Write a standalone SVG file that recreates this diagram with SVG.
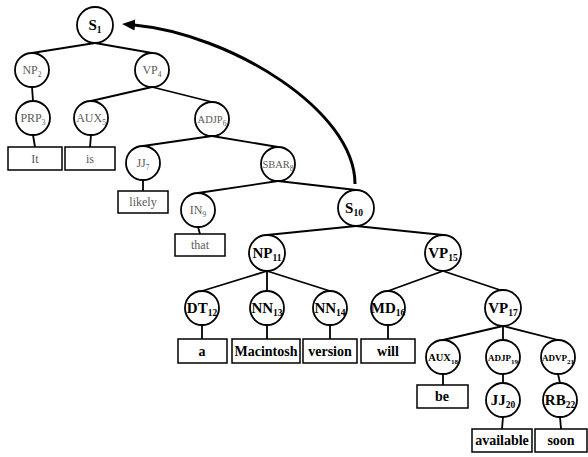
<svg xmlns="http://www.w3.org/2000/svg" width="588" height="457" viewBox="0 0 588 457">
  <defs>
    <style>
      .node { fill: #fff; stroke: #000; stroke-width: 1.8; }
      .box { fill: #fff; stroke: #000; stroke-width: 1.5; }
      .edge { stroke: #000; stroke-width: 1.8; fill: none; }
      .lbl { font-family: "Liberation Serif", "Times New Roman", serif; font-weight: bold; font-size: 15px; fill: #000; text-anchor: middle; }
      .lbl .sub { font-size: 9.5px; }
      .sm { font-size: 10.5px; }
      .sm .sub { font-size: 7px; }
      .dim { font-weight: normal; fill: #5a5a5a; font-size: 12px; }
      .dim .sub { font-size: 7.5px; }
      .word { font-family: "Liberation Serif", "Times New Roman", serif; font-weight: bold; font-size: 14px; fill: #000; text-anchor: middle; }
      .word.dim { font-weight: normal; fill: #5a5a5a; font-size: 12px; }
      .link { stroke: #000; stroke-width: 3; fill: none; }
    </style>
    <marker id="head" markerUnits="userSpaceOnUse" markerWidth="14" markerHeight="12" refX="1" refY="6" orient="auto">
      <path d="M0,0.5 L13,6 L0,11.5 z" fill="#000"/>
    </marker>
  </defs>

  <!-- tree edges: parent bottom to child top -->
  <g id="edges">
    <line class="edge" x1="95" y1="43" x2="32" y2="53"/>
    <line class="edge" x1="95" y1="43" x2="152" y2="53"/>
    <line class="edge" x1="32" y1="87" x2="33" y2="101"/>
    <line class="edge" x1="33" y1="135" x2="35" y2="147"/>
    <line class="edge" x1="152" y1="87" x2="91" y2="101"/>
    <line class="edge" x1="152" y1="87" x2="212" y2="102"/>
    <line class="edge" x1="91" y1="135" x2="90" y2="147"/>
    <line class="edge" x1="212" y1="136" x2="143" y2="146"/>
    <line class="edge" x1="212" y1="136" x2="278" y2="147"/>
    <line class="edge" x1="143" y1="180" x2="143" y2="191"/>
    <line class="edge" x1="278" y1="181" x2="198" y2="193"/>
    <line class="edge" x1="278" y1="181" x2="356" y2="190"/>
    <line class="edge" x1="198" y1="227" x2="200" y2="234"/>
    <line class="edge" x1="356" y1="226" x2="267" y2="235"/>
    <line class="edge" x1="356" y1="226" x2="443" y2="235"/>
    <line class="edge" x1="267" y1="271" x2="202" y2="291"/>
    <line class="edge" x1="267" y1="271" x2="267" y2="291"/>
    <line class="edge" x1="267" y1="271" x2="330" y2="291"/>
    <line class="edge" x1="443" y1="271" x2="388" y2="291"/>
    <line class="edge" x1="443" y1="271" x2="503" y2="291"/>
    <line class="edge" x1="202" y1="325" x2="202" y2="339"/>
    <line class="edge" x1="267" y1="325" x2="267" y2="339"/>
    <line class="edge" x1="330" y1="325" x2="330" y2="339"/>
    <line class="edge" x1="388" y1="325" x2="388" y2="339"/>
    <line class="edge" x1="503" y1="326" x2="443" y2="340"/>
    <line class="edge" x1="503" y1="326" x2="503" y2="340"/>
    <line class="edge" x1="503" y1="326" x2="558" y2="340"/>
    <line class="edge" x1="443" y1="374" x2="443" y2="385"/>
    <line class="edge" x1="503" y1="374" x2="503" y2="383"/>
    <line class="edge" x1="558" y1="374" x2="560" y2="383"/>
    <line class="edge" x1="503" y1="417" x2="502" y2="429"/>
    <line class="edge" x1="560" y1="417" x2="561" y2="429"/>
    <!-- long arrow from S10 back to S1 -->
    <path class="link" d="M355,184 C355,110 230,34 134,25" marker-end="url(#head)"/>
  </g>

  <!-- nodes -->
  <g id="S1"><circle class="node" cx="95" cy="25" r="18"/><text class="lbl" x="95" y="30">S<tspan class="sub" dy="3">1</tspan></text></g>
  <g id="NP2"><circle class="node" cx="32" cy="70" r="17"/><text class="lbl dim" x="32" y="74">NP<tspan class="sub" dy="3">2</tspan></text></g>
  <g id="VP4"><circle class="node" cx="152" cy="70" r="17"/><text class="lbl dim" x="152" y="74">VP<tspan class="sub" dy="3">4</tspan></text></g>
  <g id="PRP3"><circle class="node" cx="33" cy="118" r="17"/><text class="lbl dim" x="33" y="122">PRP<tspan class="sub" dy="3">3</tspan></text></g>
  <g id="AUX5"><circle class="node" cx="91" cy="118" r="17"/><text class="lbl dim" x="91" y="122">AUX<tspan class="sub" dy="3">5</tspan></text></g>
  <g id="ADJP6"><circle class="node" cx="212" cy="119" r="17"/><text class="lbl dim" x="212" y="123" style="font-size:10.5px">ADJP<tspan class="sub" dy="3">6</tspan></text></g>
  <g id="JJ7"><circle class="node" cx="143" cy="163" r="17"/><text class="lbl dim" x="143" y="167">JJ<tspan class="sub" dy="3">7</tspan></text></g>
  <g id="SBAR8"><circle class="node" cx="278" cy="164" r="17"/><text class="lbl dim" x="278" y="168" style="font-size:10.5px">SBAR<tspan class="sub" dy="3">8</tspan></text></g>
  <g id="IN9"><circle class="node" cx="198" cy="210" r="17"/><text class="lbl dim" x="198" y="214">IN<tspan class="sub" dy="3">9</tspan></text></g>
  <g id="S10"><circle class="node" cx="356" cy="208" r="18"/><text class="lbl" x="354" y="213">S<tspan class="sub" dy="3">10</tspan></text></g>
  <g id="NP11"><circle class="node" cx="267" cy="253" r="18"/><text class="lbl" x="267" y="258">NP<tspan class="sub" dy="3">11</tspan></text></g>
  <g id="VP15"><circle class="node" cx="443" cy="253" r="18"/><text class="lbl" x="443" y="258">VP<tspan class="sub" dy="3">15</tspan></text></g>
  <g id="DT12"><circle class="node" cx="202" cy="308" r="17"/><text class="lbl" x="202" y="313">DT<tspan class="sub" dy="3">12</tspan></text></g>
  <g id="NN13"><circle class="node" cx="267" cy="308" r="17"/><text class="lbl" x="267" y="313">NN<tspan class="sub" dy="3">13</tspan></text></g>
  <g id="NN14"><circle class="node" cx="330" cy="308" r="17"/><text class="lbl" x="330" y="313">NN<tspan class="sub" dy="3">14</tspan></text></g>
  <g id="MD16"><circle class="node" cx="388" cy="308" r="17"/><text class="lbl" x="388" y="313">MD<tspan class="sub" dy="3">16</tspan></text></g>
  <g id="VP17"><circle class="node" cx="503" cy="308" r="18"/><text class="lbl" x="503" y="313">VP<tspan class="sub" dy="3">17</tspan></text></g>
  <g id="AUX18"><circle class="node" cx="443" cy="357" r="17"/><text class="lbl sm" x="443" y="361">AUX<tspan class="sub" dy="3">18</tspan></text></g>
  <g id="ADJP19"><circle class="node" cx="503" cy="357" r="17"/><text class="lbl sm" x="503" y="361" style="font-size:9px">ADJP<tspan class="sub" dy="3">19</tspan></text></g>
  <g id="ADVP21"><circle class="node" cx="558" cy="357" r="17"/><text class="lbl sm" x="558" y="361" style="font-size:9px">ADVP<tspan class="sub" dy="3">21</tspan></text></g>
  <g id="JJ20"><circle class="node" cx="503" cy="400" r="17"/><text class="lbl" x="503" y="405">JJ<tspan class="sub" dy="3">20</tspan></text></g>
  <g id="RB22"><circle class="node" cx="560" cy="400" r="17"/><text class="lbl" x="560" y="405">RB<tspan class="sub" dy="3">22</tspan></text></g>

  <!-- word boxes -->
  <g id="w-it"><rect class="box" x="8" y="147" width="54" height="23"/><text class="word dim" x="35" y="163">It</text></g>
  <g id="w-is"><rect class="box" x="65" y="147" width="50" height="23"/><text class="word dim" x="90" y="163">is</text></g>
  <g id="w-likely"><rect class="box" x="118" y="191" width="50" height="22"/><text class="word dim" x="143" y="206">likely</text></g>
  <g id="w-that"><rect class="box" x="175" y="234" width="50" height="22"/><text class="word dim" x="200" y="249">that</text></g>
  <g id="w-a"><rect class="box" x="178" y="339" width="49" height="24"/><text class="word" x="202" y="356">a</text></g>
  <g id="w-macintosh"><rect class="box" x="232" y="339" width="68" height="24"/><text class="word" x="266" y="356">Macintosh</text></g>
  <g id="w-version"><rect class="box" x="303" y="339" width="54" height="24"/><text class="word" x="330" y="356">version</text></g>
  <g id="w-will"><rect class="box" x="361" y="339" width="54" height="24"/><text class="word" x="388" y="356">will</text></g>
  <g id="w-be"><rect class="box" x="417" y="385" width="51" height="23"/><text class="word" x="442" y="401">be</text></g>
  <g id="w-available"><rect class="box" x="472" y="429" width="60" height="23"/><text class="word" x="502" y="445">available</text></g>
  <g id="w-soon"><rect class="box" x="535" y="429" width="52" height="23"/><text class="word" x="561" y="445">soon</text></g>
</svg>
